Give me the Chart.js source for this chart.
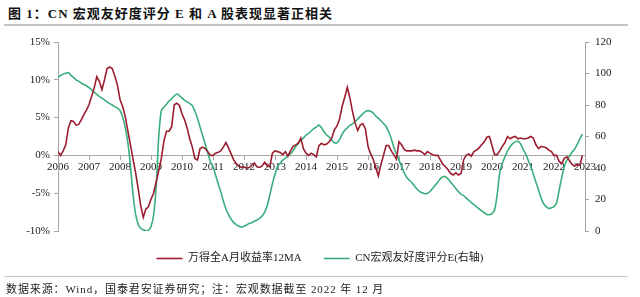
<!DOCTYPE html>
<html>
<head>
<meta charset="utf-8">
<script src="https://cdn.jsdelivr.net/npm/chart.js@4.4.0/dist/chart.umd.min.js"></script>
<style>
body { margin: 0; width: 640px; height: 297px; background: #fff; position: relative; overflow: hidden;
       font-family: "Liberation Serif", "Noto Sans CJK SC", serif; }
#title { position: absolute; left: 8px; top: 3px; font-size: 13px; font-weight: bold; color: #111; letter-spacing: 1px; }
.rule { position: absolute; left: 4px; width: 624px; background: #c4c4c4; }
#src { position: absolute; left: 6px; top: 280px; font-size: 11px; color: #222; letter-spacing: 0.9px; }
#box { position: absolute; left: 0; top: 28px; width: 640px; height: 252px; }
</style>
</head>
<body>
<div id="title">图 1：CN 宏观友好度评分 E 和 A 股表现显著正相关</div>
<div class="rule" style="top:24px;height:2px"></div>
<div id="box"><canvas id="chart"></canvas></div>
<div class="rule" style="top:276px;height:1px"></div>
<div id="src">数据来源：Wind，国泰君安证券研究；注：宏观数据截至 2022 年 12 月</div>

<script>
/* ------------------------------
   DATA (monthly, Jan 2006 - Dec 2022)
--------------------------------*/

const firstYear = 2006;
const lastYear = 2022;

// categories: one per month, as decimal year
let months = [];
for (let y = firstYear; y <= lastYear; y++) {
    for (let m = 0; m < 12; m++) months.push(y + m / 12);
}

// 万得全A月收益率12MA (%), left axis
const windA12MA = [
    0.5, 0, 0.6, 1.4, 3.6, 4.6, 4.5, 4.0, 4.1, 4.7, 5.4, 6.0,
    6.7, 7.8, 8.9, 10.4, 9.8, 8.7, 10.0, 11.5, 11.7, 11.5, 10.5, 9.3,
    7.4, 6.5, 5.2, 3.3, 1.5, -0.4, -2.2, -4.3, -6.6, -8.2, -7.1, -6.8,
    -5.8, -5.0, -3.5, -2.0, -0.4, 1.9, 3.2, 3.2, 3.8, 6.7, 6.9, 6.6,
    5.5, 4.7, 3.6, 2.2, 1.1, -0.4, -0.6, 0.9, 1.1, 0.9, 0.5, 0,
    0, 0.3, 0.4, 0.6, 1.1, 1.7, 1.0, 0.2, -0.6, -1.1, -1.4, -1.6,
    -1.5, -1.7, -1.6, -1.3, -1.0, -1.5, -1.6, -1.4, -0.9, -1.4, -1.5, 0.3,
    0.6, 0.5, 0.4, 0.1, 0.5, -0.1, 0.6, 1.2, 1.4, 1.6, 2.3, 0.9,
    0.3, 0, 0.3, 0.1, -0.2, 1.3, 1.6, 1.4, 1.5, 1.8, 2.3, 3.4,
    3.9, 4.8, 6.5, 7.7, 9.0, 7.6, 5.8, 4.3, 3.3, 4.0, 4.2, 3.5,
    1.2, 0.2, -0.5, -1.6, -2.7, -1.2, 0, 1.3, 1.3, 0.6, 0.1, -0.5,
    1.8, 1.4, 0.8, 0.6, 0.6, 0.6, 0.7, 0.6, 0.6, 0.4, 0.1, 0.5,
    0.3, 0.1, 0, 0, -0.6, -1.2, -1.5, -1.9, -2.4, -2.6, -2.3, -2.6,
    -2.4, -0.6, 0, 0.2, -0.1, 0.5, 0.7, 1.0, 1.4, 1.8, 2.4, 2.5,
    1.3, 0.1, 0.1, 0.6, 1.2, 1.7, 2.5, 2.2, 2.4, 2.5, 2.2, 2.3,
    2.2, 2.2, 2.3, 2.5, 2.3, 1.4, 0.9, 1.2, 1.1, 1.0, 0.7, 0.5,
    0, 0, -0.8, -1.1, -0.4, -0.2, -0.7, -1.2, -1.4, -1.2, -1.3, 0
];

// CN宏观友好度评分E, right axis
const cnScoreE = [
    97.7, 98.7, 99.6, 100.1, 100.6, 99, 97.5, 96, 95, 94, 93, 92.2,
    91, 89.6, 88.2, 86.8, 85.5, 84.4, 83.2, 82, 80.9, 80, 79, 78,
    76.5, 72.5, 66, 56.6, 42, 24, 11, 4.5, 1.7, 0.8, 0.2, 0.4,
    2.8, 10, 28, 60, 76.5, 78.5, 80.5, 82.5, 84, 85.8, 87, 86,
    84.5, 83, 82, 81, 79.5, 76, 71.5, 66, 60.5, 55, 49.5, 44,
    41, 35.5, 30, 25, 19, 14, 10.5, 7.5, 5.5, 4, 3, 2.5,
    3, 3.8, 4.8, 5.3, 6.2, 7, 8, 9.5, 12, 16, 23, 30,
    36, 41, 43, 45, 46.3, 47.5, 49, 51, 53.5, 55.5, 57.5, 59,
    60.9, 62, 63.5, 65, 66, 67.2, 65.5, 63, 61, 59.5, 57.7, 56,
    56, 58, 61.5, 64, 65.5, 67, 68, 69.5, 71, 72.8, 74.4, 75.8,
    76.4, 76, 75, 73, 71.5, 70, 68.3, 66.5, 63, 58.7, 53, 49.1,
    45, 41, 37, 34, 32.3, 30.6, 28.5, 26.5, 25, 24.3, 23.7, 24,
    25.1, 27, 29, 31, 33.2, 34.5, 34.5, 33, 31, 29, 27, 25,
    23.4, 22.5, 21, 19.5, 18, 16.8, 15.4, 14, 12.8, 11.6, 10.5, 10.4,
    11, 13.5, 23, 37, 43, 47, 50.8, 53.5, 55.5, 56.6, 57, 55.5,
    52, 49, 45, 41, 36, 31, 26, 21, 17.3, 15.5, 14.3, 14.8,
    15.5, 18, 26, 34, 41, 45, 47.5, 50, 52, 55, 58.5, 61.5
];

const leftTicks = [-10, -5, 0, 5, 10, 15];
const rightTicks = [0, 20, 40, 60, 80, 100, 120];

const seriesNames = ["万得全A月收益率12MA", "CN宏观友好度评分E(右轴)"];

/* ------------------------------
   CHART
--------------------------------*/

const fontFamily = '"Liberation Serif", "Noto Sans CJK SC", serif';
const axisGray = "#a6a6a6";

let ctx = document.getElementById("chart");

let chart = new Chart(ctx, {
    type: "line",
    data: {
        datasets: [{
            label: seriesNames[0],
            data: months.map((x, i) => ({ x: x, y: windA12MA[i] })),
            yAxisID: "y",
            borderColor: "#9b1d30",
            backgroundColor: "#9b1d30",
            borderWidth: 1.6,
            pointRadius: 0,
            tension: 0
        }, {
            label: seriesNames[1],
            data: months.map((x, i) => ({ x: x, y: cnScoreE[i] })),
            yAxisID: "y1",
            borderColor: "#3aae7c",
            backgroundColor: "#3aae7c",
            borderWidth: 1.6,
            pointRadius: 0,
            tension: 0.3
        }]
    },
    options: {
        responsive: true,
        maintainAspectRatio: false,
        animation: false,
        layout: { padding: { top: 14, bottom: 6 } },
        plugins: {
            tooltip: { enabled: false },
            legend: {
                position: "bottom",
                labels: {
                    usePointStyle: true,
                    pointStyle: "line",
                    pointStyleWidth: 26,
                    padding: 22,
                    color: "#222",
                    font: { family: fontFamily, size: 11 }
                }
            }
        },
        scales: {
            x: {
                type: "linear",
                position: { y: 0 },
                min: firstYear,
                max: lastYear + 1,
                grid: { drawOnChartArea: false, color: axisGray, tickLength: 4 },
                border: { color: axisGray, width: 1 },
                ticks: {
                    stepSize: 1,
                    maxRotation: 0,
                    autoSkip: false,
                    padding: 1,
                    color: "#222",
                    font: { family: fontFamily, size: 11 },
                    callback: v => String(v)
                }
            },
            y: {
                position: "left",
                min: leftTicks[0],
                max: leftTicks[leftTicks.length - 1],
                afterBuildTicks: s => { s.ticks = leftTicks.map(v => ({ value: v })); },
                afterFit: s => { s.width = 58; },
                grid: { drawOnChartArea: false, color: axisGray, tickLength: 4 },
                border: { color: axisGray, width: 1 },
                ticks: {
                    color: "#222",
                    padding: 4,
                    font: { family: fontFamily, size: 11 },
                    callback: v => v + "%"
                }
            },
            y1: {
                position: "right",
                min: rightTicks[0],
                max: rightTicks[rightTicks.length - 1],
                afterBuildTicks: s => { s.ticks = rightTicks.map(v => ({ value: v })); },
                afterFit: s => { s.width = 55; },
                grid: { drawOnChartArea: false, color: axisGray, tickLength: 4 },
                border: { color: axisGray, width: 1 },
                ticks: {
                    color: "#222",
                    padding: 6,
                    font: { family: fontFamily, size: 11 }
                }
            }
        }
    }
});
</script>
</body>
</html>
